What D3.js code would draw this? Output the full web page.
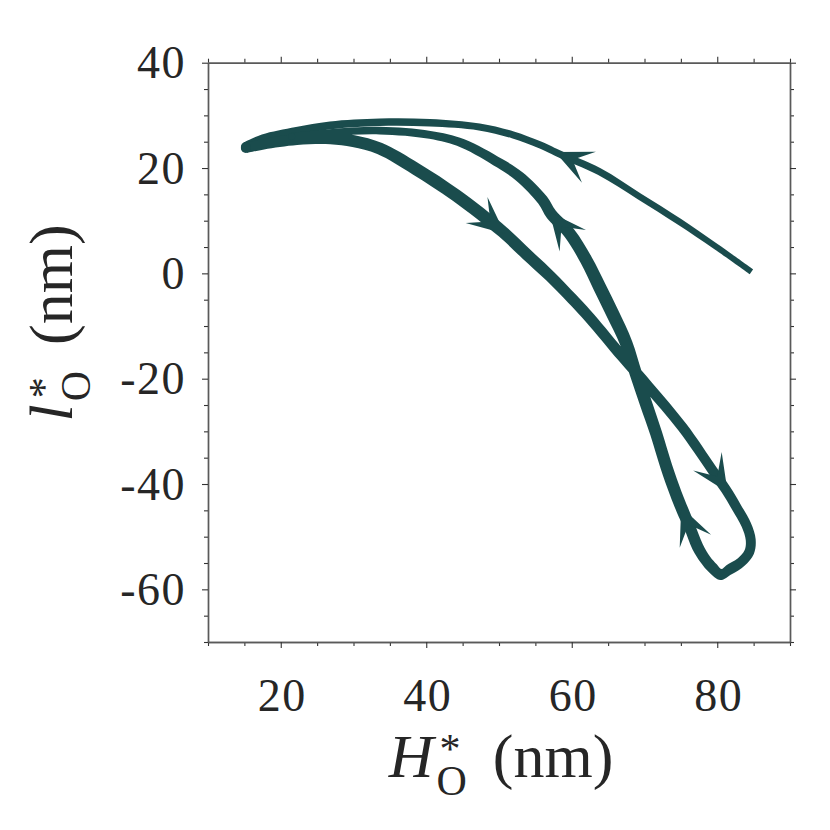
<!DOCTYPE html>
<html><head><meta charset="utf-8">
<script src="https://cdn.jsdelivr.net/npm/d3@7"></script>
<style>body{margin:0;background:#fff} svg{display:block}</style>
</head><body><svg id="c" width="830" height="830"></svg>
<script>
// ---- data (H*_O in nm, l*_O in nm, relative line weight) ----
// first leg: from the start point back to the left turning point
const leg1H = [84.7, 79.8, 74.8, 69.3, 63.8, 58.1, 55.6, 51.9, 47.3, 40.5, 33.6, 26.8, 22.2, 17.6, 15.2];
const leg1L = [0.3, 5.1, 9.8, 14.6, 19.3, 22.8, 24.4, 26.3, 27.8, 28.6, 28.7, 28.1, 27.0, 25.5, 24.0];
const leg1T = [0.43, 0.43, 0.46, 0.46, 0.5, 0.5, 0.5, 0.5, 0.5, 0.54, 0.54, 0.57, 0.61, 0.68, 0.71];
// second leg: lower branch, loop, and return branch
const leg2H = [15.2, 17.6, 22.2, 26.8, 30.0, 33.6, 38.6, 44.1, 50.5, 53.8, 57.0, 60.1, 62.5, 67.0, 70.6, 75.2, 79.3, 81.2,
  82.6, 84.0, 84.6, 84.4, 83.3, 81.6, 80.5, 79.4, 78.4, 77.3, 76.2, 75.2, 74.3, 73.0, 71.6, 70.2, 68.8, 67.5, 65.6, 63.8,
  62.0, 59.7, 57.2, 56.0, 52.8, 50.1, 45.0, 40.5, 33.6, 26.7, 21.5];
const leg2L = [23.8, 24.5, 25.4, 25.6, 25.1, 23.7, 19.8, 14.8, 7.9, 3.6, -0.5, -4.9, -8.5, -15.9, -21.6, -29.2, -37.3, -41.1,
  -44.3, -47.8, -50.6, -52.9, -54.8, -56.3, -57.2, -56.0, -54.4, -51.9, -48.1, -44.9, -41.8, -36.7, -30.4, -24.7, -19.0, -13.3, -7.6, -2.5,
  2.5, 7.6, 11.2, 13.9, 18.4, 20.9, 24.7, 26.3, 27.1, 26.7, 26.0];
const leg2T = [0.71, 0.75, 0.79, 0.82, 0.86, 0.86, 0.89, 0.89, 0.86, 0.84, 0.82, 0.8, 0.79, 0.77, 0.75, 0.73, 0.71, 0.71,
  0.71, 0.71, 0.71, 0.71, 0.71, 0.75, 0.79, 0.79, 0.79, 0.82, 0.82, 0.86, 0.86, 0.86, 0.86, 0.89, 0.89, 0.89, 0.93, 0.93,
  0.89, 0.86, 0.82, 0.79, 0.75, 0.71, 0.64, 0.57, 0.54, 0.5, 0.5];
// direction arrows (tip positions on the trajectory)
const arrowH = [58.1, 50.5, 81.2, 75.2, 57.2];
const arrowL = [22.8, 7.9, -41.1, -44.9, 11.2];
// ticks
const xMajor = [20, 40, 60, 80];
const yMajor = [-60, -40, -20, 0, 20, 40];
const xMinor = [10, 15, 25, 30, 35, 45, 50, 55, 65, 70, 75, 85, 90];
const yMinor = [-70, -65, -55, -50, -45, -35, -30, -25, -15, -10, -5, 5, 10, 15, 25, 30, 35];

const col = "#1a4c4d", txt = "#262626", font = "'Liberation Serif', 'Times New Roman', serif";
const svg = d3.select("#c");
const L = 208, R = 790, T = 62.7, B = 642;
const x = d3.scaleLinear().domain([10, 90]).range([L, R]);
const y = d3.scaleLinear().domain([-70, 40]).range([B, T]);
const wS = d3.scaleLinear().domain([0, 1]).range([0, 14]);

// ---- axes (box with outward ticks) ----
function axis(gen, tr, vals, size, labels) {
  const g = svg.append("g").attr("transform", tr)
    .call(gen.tickValues(vals).tickSize(size).tickSizeOuter(0).tickFormat(labels ? (d => String(d)) : ""));
  g.select(".domain").attr("stroke", "#5a5a5a").attr("stroke-width", 1.4);
  g.selectAll(".tick line").attr("stroke", "#333").attr("stroke-width", 1.1);
  g.selectAll("text").attr("font-family", font).attr("font-size", 46).attr("letter-spacing", 1.5).attr("fill", txt);
  return g;
}
axis(d3.axisBottom(x), `translate(0,${B})`, xMinor, 4, false);
const gx = axis(d3.axisBottom(x), `translate(0,${B})`, xMajor, 6, true);
gx.selectAll("text").attr("y", 69).attr("dy", null).attr("dx", 1);
axis(d3.axisTop(x), `translate(0,${T})`, xMinor, 4, false);
axis(d3.axisTop(x), `translate(0,${T})`, xMajor, 6, false);
axis(d3.axisLeft(y), `translate(${L},0)`, yMinor, 4, false);
const gy = axis(d3.axisLeft(y), `translate(${L},0)`, yMajor, 6, true);
gy.selectAll("text").attr("x", -22).attr("dy", "0.33em");
axis(d3.axisRight(y), `translate(${R},0)`, yMinor, 4, false);
axis(d3.axisRight(y), `translate(${R},0)`, yMajor, 6, false);

// ---- trajectory as variable-width ribbon ----
const lineGen = d3.line().curve(d3.curveCatmullRom.alpha(0.5));
function pts(H, Lv) { return H.map((d, i) => [x(d), y(Lv[i])]); }
function ribbon(P, W) {
  const n = P.length, A = [], Bs = [];
  for (let i = 0; i < n; i++) {
    const a = P[Math.max(i - 1, 0)], b = P[Math.min(i + 1, n - 1)];
    let tx = b[0] - a[0], ty = b[1] - a[1];
    const len = Math.hypot(tx, ty); tx /= len; ty /= len;
    const hw = wS(W[i]) / 2;
    A.push([P[i][0] - ty * hw, P[i][1] + tx * hw]);
    Bs.push([P[i][0] + ty * hw, P[i][1] - tx * hw]);
  }
  return lineGen(A) + lineGen(Bs.reverse()).replace(/^M/, "L") + "Z";
}
const P1 = pts(leg1H, leg1L), P2 = pts(leg2H, leg2L);
const gl = svg.append("g").attr("fill", col);
gl.append("path").attr("d", ribbon(P1, leg1T));
gl.append("path").attr("d", ribbon(P2, leg2T));
gl.append("circle").attr("cx", P1[P1.length - 1][0]).attr("cy", P1[P1.length - 1][1]).attr("r", wS(leg1T[leg1T.length - 1]) / 2);
gl.append("circle").attr("cx", P2[0][0]).attr("cy", P2[0][1]).attr("r", wS(leg2T[0]) / 2);
gl.append("circle").attr("cx", P2[P2.length - 1][0]).attr("cy", P2[P2.length - 1][1]).attr("r", wS(leg2T[leg2T.length - 1]) / 2);

// ---- arrowheads ----
const legs = [P1, P2];
arrowH.forEach((h, k) => {
  const tip = [x(h), y(arrowL[k])];
  let best = null, bd = Infinity;
  legs.forEach(P => P.forEach((p, i) => {
    const d = Math.hypot(p[0] - tip[0], p[1] - tip[1]);
    if (d < bd) { bd = d; best = { P, i }; }
  }));
  const { P, i } = best;
  const a = P[Math.max(i - 1, 0)], b = P[Math.min(i + 1, P.length - 1)];
  let dx = b[0] - a[0], dy = b[1] - a[1];
  const len = Math.hypot(dx, dy); dx /= len; dy /= len;
  const nx = -dy, ny = dx, Lh = 37, Hh = 17, Nh = 19;
  const t = [P[i][0] + dx * 3, P[i][1] + dy * 3];
  const poly = [t,
    [t[0] - dx * Lh + nx * Hh, t[1] - dy * Lh + ny * Hh],
    [t[0] - dx * Nh, t[1] - dy * Nh],
    [t[0] - dx * Lh - nx * Hh, t[1] - dy * Lh - ny * Hh]];
  gl.append("path").attr("d", "M" + poly.map(p => p.join(",")).join("L") + "Z");
});

// ---- axis titles with sub/superscripts (single text element) ----
function mathTitle(g, letter) {
  const tmp = g.append("text").attr("font-family", font).attr("font-style", "italic").attr("font-size", 62).text(letter);
  const w1 = tmp.node().getComputedTextLength();
  tmp.remove();
  const tmp2 = g.append("text").attr("font-family", font).attr("font-size", 42).text("O");
  const wO = tmp2.node().getComputedTextLength();
  tmp2.remove();
  const t = g.append("text").attr("font-family", font).attr("fill", txt);
  t.append("tspan").attr("x", 0).attr("y", 0).attr("font-style", "italic").attr("font-size", 62).text(letter);
  t.append("tspan").attr("x", w1 + 6).attr("y", -14).attr("font-size", 42).text("*");
  t.append("tspan").attr("x", w1 + 3).attr("y", 18).attr("font-size", 42).text("O");
  const rest = t.append("tspan").attr("x", w1 + 3 + wO + 26).attr("y", 0).attr("font-size", 62).text("(nm)");
  return w1 + 3 + wO + 26 + rest.node().getComputedTextLength();
}
const gxT = svg.append("g");
const wx = mathTitle(gxT, "H");
gxT.attr("transform", `translate(${(L + R) / 2 + 2 - wx / 2},777)`);
const gyT = svg.append("g");
const wy = mathTitle(gyT, "l");
gyT.attr("transform", `translate(72,${323 + wy / 2}) rotate(-90)`);
</script>
</body></html>
